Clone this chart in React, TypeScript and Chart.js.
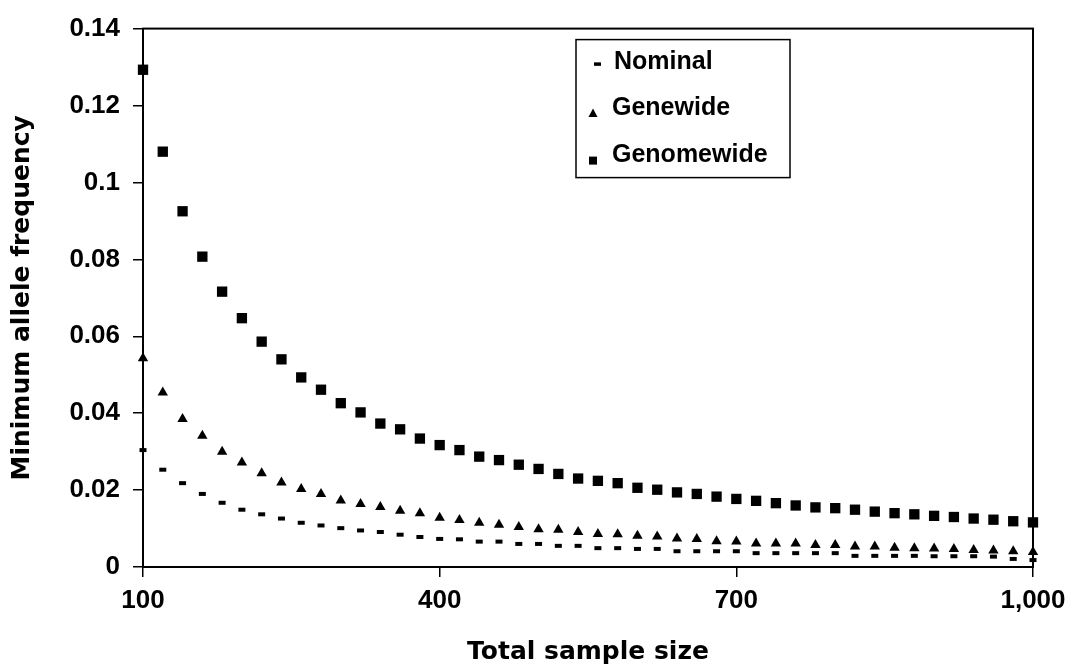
import React, { useEffect, useRef } from "react";
import { Chart, registerables } from "chart.js";

Chart.register(...registerables);

const sampleSizes = [
  100, 120, 140, 160, 180, 200, 220, 240, 260, 280,
  300, 320, 340, 360, 380, 400, 420, 440, 460, 480,
  500, 520, 540, 560, 580, 600, 620, 640, 660, 680,
  700, 720, 740, 760, 780, 800, 820, 840, 860, 880,
  900, 920, 940, 960, 980, 1000,
];

const nominal = [
  0.0304, 0.0253, 0.0218, 0.019, 0.0167, 0.0149, 0.0137, 0.0126, 0.0115, 0.0108,
  0.0101, 0.0095, 0.0091, 0.0084, 0.0078, 0.0073, 0.0072, 0.0066, 0.0066, 0.006,
  0.006, 0.0055, 0.0055, 0.0049, 0.0049, 0.0047, 0.0047, 0.0041, 0.0041, 0.0041,
  0.0041, 0.0036, 0.0036, 0.0036, 0.0036, 0.0036, 0.0029, 0.0029, 0.0029, 0.0029,
  0.0028, 0.0028, 0.0028, 0.0027, 0.0021, 0.0018,
];

const genewide = [
  0.0543, 0.0454, 0.0385, 0.0341, 0.03, 0.0272, 0.0244, 0.022, 0.0203, 0.019,
  0.0173, 0.0164, 0.0156, 0.0146, 0.014, 0.0128, 0.0122, 0.0115, 0.011, 0.0104,
  0.0098, 0.0097, 0.0091, 0.0086, 0.0085, 0.0081, 0.0079, 0.0074, 0.0073, 0.0067,
  0.0066, 0.0061, 0.0061, 0.0061, 0.0057, 0.0057, 0.0053, 0.0053, 0.005, 0.0049,
  0.0048, 0.0047, 0.0044, 0.0043, 0.0041, 0.0039,
];

const genomewide = [
  0.1293, 0.108, 0.0925, 0.0807, 0.0716, 0.0647, 0.0586, 0.054, 0.0493, 0.0461,
  0.0426, 0.0402, 0.0373, 0.0358, 0.0334, 0.0317, 0.0304, 0.0287, 0.0278, 0.0266,
  0.0255, 0.0242, 0.023, 0.0224, 0.0218, 0.0206, 0.0201, 0.0194, 0.019, 0.0183,
  0.0177, 0.0172, 0.0166, 0.016, 0.0155, 0.0153, 0.0149, 0.0144, 0.014, 0.0137,
  0.0133, 0.013, 0.0126, 0.0123, 0.0119, 0.0116,
];

const seriesLabels = ["Nominal", "Genewide", "Genomewide"];
const xTitle = "Total sample size";
const yTitle = "Minimum allele frequency";

const toPoints = (ys: number[]) => sampleSizes.map((x, i) => ({ x, y: ys[i] }));

const frameAndLegend = {
  id: "frameAndLegend",
  afterDraw(chart: any) {
    const { ctx, chartArea } = chart;
    ctx.save();
    // plot frame
    ctx.strokeStyle = "#000";
    ctx.lineWidth = 2;
    ctx.strokeRect(chartArea.left, chartArea.top, chartArea.right - chartArea.left, chartArea.bottom - chartArea.top);

    // legend box
    const bx = chartArea.left + 433;
    const by = chartArea.top + 11;
    const bw = 214;
    const bh = 138;
    ctx.fillStyle = "#fff";
    ctx.fillRect(bx, by, bw, bh);
    ctx.lineWidth = 1.5;
    ctx.strokeRect(bx, by, bw, bh);

    const rows = [by + 22.5, by + 69, by + 116];
    const markerX = bx + 17;
    ctx.fillStyle = "#000";
    ctx.strokeStyle = "#000";
    // Nominal marker: short dash
    ctx.lineWidth = 3.5;
    ctx.beginPath();
    ctx.moveTo(markerX + 1, rows[0] + 2);
    ctx.lineTo(markerX + 8, rows[0] + 2);
    ctx.stroke();
    // Genewide marker: triangle
    ctx.beginPath();
    ctx.moveTo(markerX, rows[1] + 0);
    ctx.lineTo(markerX + 4.5, rows[1] + 8.5);
    ctx.lineTo(markerX - 4.5, rows[1] + 8.5);
    ctx.closePath();
    ctx.fill();
    // Genomewide marker: square
    ctx.fillRect(markerX - 4, rows[2] + 1, 8, 8);

    ctx.font = 'bold 25px "Liberation Sans", Arial, sans-serif';
    ctx.textBaseline = "middle";
    ctx.textAlign = "left";
    const textX = bx + 36;
    seriesLabels.forEach((label, i) => {
      ctx.fillText(label, textX + (i === 0 ? 2 : 0), rows[i]);
    });
    ctx.restore();
  },
};

export default function App() {
  const canvasRef = useRef<HTMLCanvasElement | null>(null);

  useEffect(() => {
    const canvas = canvasRef.current;
    if (!canvas) return;
    const chart = new Chart(canvas, {
      type: "scatter",
      data: {
        datasets: [
          {
            label: seriesLabels[0],
            data: toPoints(nominal),
            pointStyle: "line",
            pointRadius: 3.5,
            pointBorderWidth: 4,
            borderColor: "#000",
            backgroundColor: "#000",
            pointBorderColor: "#000",
            pointBackgroundColor: "#000",
            clip: false,
          },
          {
            label: seriesLabels[1],
            data: toPoints(genewide),
            pointStyle: "triangle",
            pointRadius: 6,
            pointBorderWidth: 0,
            borderColor: "#000",
            backgroundColor: "#000",
            pointBackgroundColor: "#000",
            clip: false,
          },
          {
            label: seriesLabels[2],
            data: toPoints(genomewide),
            pointStyle: "rect",
            pointRadius: 7.3,
            pointBorderWidth: 0,
            borderColor: "#000",
            backgroundColor: "#000",
            pointBackgroundColor: "#000",
            clip: false,
          },
        ],
      },
      options: {
        animation: false,
        responsive: false,
        maintainAspectRatio: false,
        layout: { padding: { left: 0, top: 24, right: 33, bottom: 0 } },
        plugins: {
          legend: { display: false },
          tooltip: { enabled: false },
        },
        scales: {
          x: {
            type: "linear",
            min: 100,
            max: 1000,
            afterFit: (scale: any) => {
              scale.paddingRight = 33;
            },
            ticks: {
              stepSize: 300,
              padding: 8.4,
              color: "#000",
              font: { family: '"Liberation Sans", Arial, sans-serif', size: 26, weight: "bold" },
              callback: (v: any) => Number(v).toLocaleString("en-US"),
            },
            grid: {
              display: true,
              drawOnChartArea: false,
              drawTicks: true,
              tickLength: 10,
              color: "#000",
              lineWidth: 1.5,
            },
            border: { display: true, color: "#000", width: 2 },
            title: {
              display: true,
              text: xTitle,
              color: "#000",
              font: { family: '"DejaVu Sans", sans-serif', size: 25, weight: "bold" },
              padding: { top: 12, bottom: 5 },
            },
          },
          y: {
            type: "linear",
            min: 0,
            max: 0.14,
            ticks: {
              stepSize: 0.02,
              padding: 13,
              color: "#000",
              font: { family: '"Liberation Sans", Arial, sans-serif', size: 26, weight: "bold" },
              callback: (v: any) => String(Number(Number(v).toFixed(2))),
            },
            grid: {
              display: true,
              drawOnChartArea: false,
              drawTicks: true,
              tickLength: 10,
              color: "#000",
              lineWidth: 1.5,
            },
            border: { display: true, color: "#000", width: 2 },
            title: {
              display: true,
              text: yTitle,
              color: "#000",
              font: { family: '"DejaVu Sans", sans-serif', size: 25, weight: "bold" },
              padding: { top: 7.5, bottom: 18.9 },
            },
          },
        },
      },
      plugins: [frameAndLegend],
    });
    return () => chart.destroy();
  }, []);

  return (
    <div style={{ position: "fixed", left: 0, top: 0, width: 1066, height: 672, background: "#fff" }}>
      <canvas ref={canvasRef} width={1066} height={672} style={{ display: "block" }} />
    </div>
  );
}
